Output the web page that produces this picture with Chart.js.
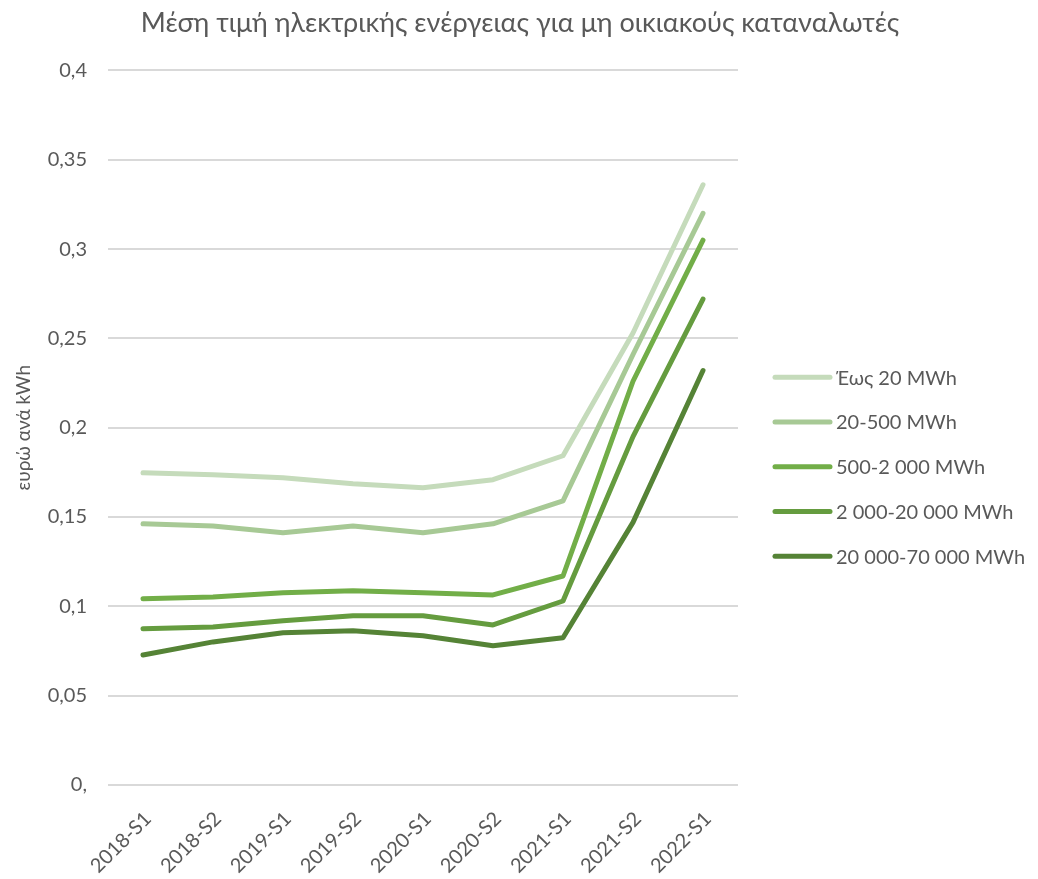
<!DOCTYPE html>
<html>
<head>
<meta charset="utf-8">
<script src="https://cdn.jsdelivr.net/npm/chart.js@4"></script>
<style>
  html, body { margin: 0; padding: 0; background: #fff; }
  #wrap { width: 1038px; height: 879px; }
</style>
</head>
<body>
<div id="wrap"><canvas id="chart"></canvas></div>
<script>
// Μέση τιμή ηλεκτρικής ενέργειας για μη οικιακούς καταναλωτές
const periods = ['2018-S1', '2018-S2', '2019-S1', '2019-S2', '2020-S1', '2020-S2', '2021-S1', '2021-S2', '2022-S1'];
const bandNames = ['Έως 20 MWh', '20-500 MWh', '500-2 000 MWh', '2 000-20 000 MWh', '20 000-70 000 MWh'];
const upTo20 = [0.1748, 0.1737, 0.1720, 0.1686, 0.1664, 0.1709, 0.1843, 0.2530, 0.3360];
const from20to500 = [0.1462, 0.1450, 0.1412, 0.1450, 0.1412, 0.1462, 0.1590, 0.2410, 0.3200];
const from500to2k = [0.1042, 0.1053, 0.1076, 0.1087, 0.1076, 0.1064, 0.1170, 0.2260, 0.3050];
const from2kto20k = [0.0874, 0.0885, 0.0919, 0.0947, 0.0947, 0.0896, 0.1030, 0.1950, 0.2720];
const from20kto70k = [0.0728, 0.0801, 0.0852, 0.0863, 0.0835, 0.0779, 0.0824, 0.1470, 0.2320];
const yTicks = [0, 0.05, 0.1, 0.15, 0.2, 0.25, 0.3, 0.35, 0.4];

const colors = ['#c5dbbb', '#a7c995', '#72ae48', '#659c3f', '#558336'];
const seriesValues = [upTo20, from20to500, from500to2k, from2kto20k, from20kto70k];
const textColor = '#595959';
const fontFamily = 'Lato, "Open Sans", sans-serif';

const datasets = bandNames.map((name, i) => ({
  label: name,
  data: seriesValues[i],
  borderColor: colors[i],
  backgroundColor: colors[i],
  borderWidth: 5,
  borderCapStyle: 'round',
  borderJoinStyle: 'round',
  pointRadius: 0,
  tension: 0,
  fill: false,
  yAxisID: 'y'
}));

// legend drawn in the empty band on the right (kept by the blank y2 axis)
const sideLegend = {
  id: 'sideLegend',
  afterDraw(chart) {
    const { ctx, chartArea } = chart;
    const x0 = chartArea.right + 37;
    const midY = (chartArea.top + chartArea.bottom) / 2 + 39;
    const step = 44.75;
    const n = chart.data.datasets.length;
    ctx.save();
    ctx.font = '20px ' + fontFamily;
    ctx.textBaseline = 'middle';
    ctx.textAlign = 'left';
    chart.data.datasets.forEach((ds, i) => {
      const y = midY + (i - (n - 1) / 2) * step;
      ctx.strokeStyle = ds.borderColor;
      ctx.lineWidth = 5;
      ctx.lineCap = 'round';
      ctx.beginPath();
      ctx.moveTo(x0, y);
      ctx.lineTo(x0 + 55, y);
      ctx.stroke();
      ctx.fillStyle = textColor;
      ctx.fillText(ds.label, x0 + 61, y + 1);
    });
    ctx.restore();
  }
};

new Chart(document.getElementById('chart'), {
  type: 'line',
  data: { labels: periods, datasets },
  plugins: [sideLegend],
  options: {
    responsive: true,
    maintainAspectRatio: false,
    animation: false,
    layout: { padding: { left: 8, right: 6, top: 4, bottom: 5 } },
    plugins: {
      title: {
        display: true,
        text: 'Μέση τιμή ηλεκτρικής ενέργειας για μη οικιακούς καταναλωτές',
        color: textColor,
        font: { family: fontFamily, size: 27, weight: 'normal' },
        padding: { top: 3, bottom: 31 }
      },
      legend: { display: false },
      tooltip: { enabled: false }
    },
    scales: {
      x: {
        offset: true,
        afterFit: (axis) => { axis.height = 89; },
        grid: { display: false },
        border: { display: false },
        ticks: {
          color: textColor,
          font: { family: fontFamily, size: 20 },
          maxRotation: 45,
          minRotation: 45,
          padding: 14,
          labelOffset: 5
        }
      },
      y: {
        min: 0,
        max: 0.4,
        afterBuildTicks: (axis) => { axis.ticks = yTicks.map(v => ({ value: v })); },
        afterFit: (axis) => { axis.width = 100; },
        grid: { color: '#d9d9d9', lineWidth: 2, drawTicks: false },
        border: { display: false },
        ticks: {
          color: textColor,
          font: { family: fontFamily, size: 20 },
          padding: 21,
          callback: (v) => v === 0 ? '0,' : String(+v.toFixed(2)).replace('.', ',')
        },
        title: {
          display: true,
          text: 'ευρώ ανά kWh',
          color: textColor,
          font: { family: fontFamily, size: 19 },
          padding: { top: 4, bottom: 0 }
        }
      },
      y2: {
        position: 'right',
        min: 0,
        max: 0.4,
        afterFit: (axis) => { axis.width = 294; },
        grid: { display: false },
        border: { display: false },
        ticks: { display: false }
      }
    }
  }
});
</script>
</body>
</html>
